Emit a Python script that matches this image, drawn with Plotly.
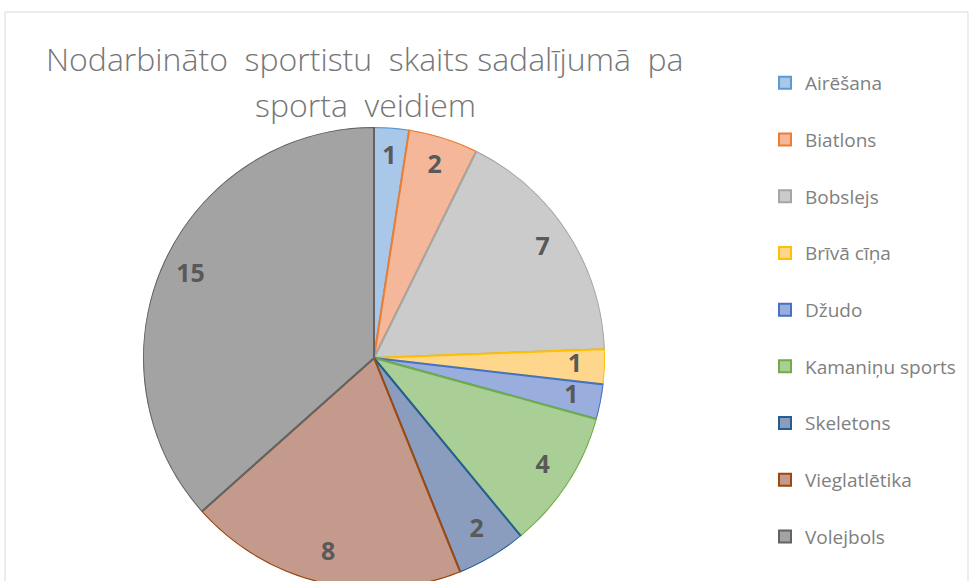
import plotly.graph_objects as go

# dati
sporta_veidi = ["Airēšana", "Biatlons", "Bobslejs", "Brīvā cīņa", "Džudo",
                "Kamaniņu sports", "Skeletons", "Vieglatlētika", "Volejbols"]
sportisti = [1, 2, 7, 1, 1, 4, 2, 8, 15]
virsraksts = ["Nodarbināto  sportistu  skaits sadalījumā  pa", "sporta  veidiem"]

fill_colors = ["#A9C7E9", "#F4B79A", "#CBCBCB", "#FFD78C", "#9AAEDE",
               "#A9CF96", "#8A9DBF", "#C49A8C", "#A3A3A3"]
line_colors = ["#5B9BD5", "#ED7D31", "#A5A5A5", "#FFC000", "#4472C4",
               "#70AD47", "#255E91", "#9E480E", "#636363"]

W, H = 970, 600

# sektoru leņķi (grādos, no augšas pulksteņrādītāja virzienā)
total = sum(sportisti)
widths = [v / total * 360 for v in sportisti]
mids = []
acc = 0
for w in widths:
    mids.append(acc + w / 2)
    acc += w

fig = go.Figure()

for name, w, m, fc, lc in zip(sporta_veidi, widths, mids, fill_colors, line_colors):
    fig.add_trace(go.Barpolar(
        r=[1], theta=[m], width=[w],
        name=name, legendgroup=name,
        marker=dict(color=fc, line=dict(color=lc, width=2)),
        hoverinfo="name",
    ))

# datu etiķetes
fig.add_trace(go.Scatterpolar(
    r=[0.87] * len(sportisti), theta=mids,
    mode="text", text=[str(v) for v in sportisti],
    textfont=dict(family="Open Sans", size=25, color="#595959", weight="bold"),
    showlegend=False, hoverinfo="skip",
))

fig.update_layout(
    width=W,
    height=H,
    margin=dict(l=0, r=0, t=0, b=0, autoexpand=False),
    paper_bgcolor="white",
    polar=dict(
        domain=dict(x=[143 / W, 605 / W], y=[(H - 589) / H, (H - 127) / H]),
        bgcolor="rgba(0,0,0,0)",
        radialaxis=dict(range=[0, 1], visible=False),
        angularaxis=dict(rotation=90, direction="clockwise", visible=False),
        bargap=0,
    ),
    showlegend=True,
    legend=dict(
        x=765 / W, xanchor="left",
        y=(H - 64) / H, yanchor="top",
        traceorder="grouped",
        tracegroupgap=29,
        font=dict(family="Open Sans", size=19, color="#808080"),
    ),
    annotations=[
        dict(text=t, x=365 / W, y=(H - yc) / H, xref="paper", yref="paper",
             xanchor="center", yanchor="middle", showarrow=False,
             font=dict(family="Open Sans", size=32, color="#767676", weight=300))
        for t, yc in zip(virsraksts, [58, 104])
    ],
    shapes=[dict(
        type="rect", xref="paper", yref="paper",
        x0=5 / W, x1=968 / W, y0=-0.2, y1=(H - 12) / H,
        line=dict(color="#D9D9D9", width=1), fillcolor="rgba(0,0,0,0)",
    )],
)

fig.write_html(
    "out.html",
    config={"displayModeBar": False},
    post_script="document.body.style.margin='0';document.body.style.overflow='hidden';",
)
